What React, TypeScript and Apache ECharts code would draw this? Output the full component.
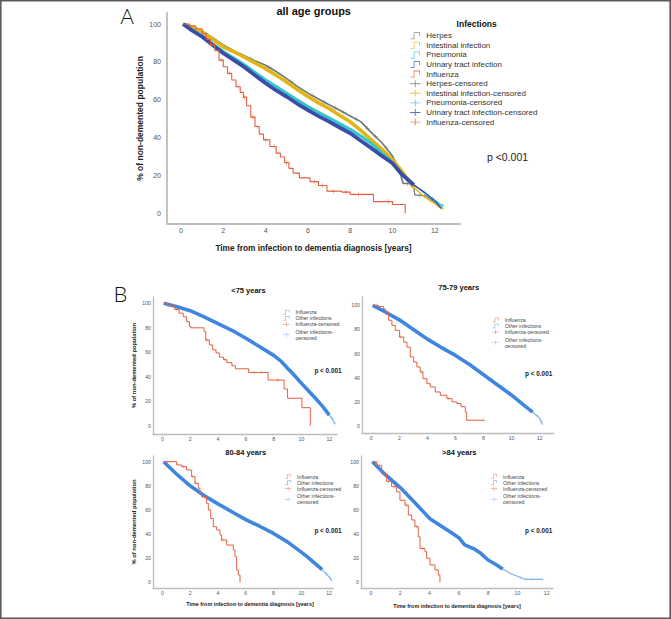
import React, { useEffect, useRef } from "react";
import * as echarts from "echarts";

const FONT = '"Liberation Sans", Arial, Helvetica, sans-serif';

// ---------------- Panel A : all age groups ----------------
const titleA = "all age groups";
const legendTitleA = "Infections";
const pTextA = "p <0.001";

const herpesA = [[0.1,100],[0.5,98.4],[1,96.2],[1.5,92.8],[2,89],[2.5,86],[3,83.3],[3.5,80.6],[4,78.3],[4.5,75],[5,71.2],[5.5,67.2],[6,63.6],[6.5,60.5],[7,57.5],[7.5,54.6],[8,51.6],[8.5,48.6],[9,42.8],[9.5,37.5],[10,30.5],[10.3,24],[10.5,16],[11,16],[11.05,10],[11.6,9.5],[12,6],[12.3,3]];
const intestinalA = [[0.1,100],[0.5,98.3],[1,96],[1.5,92],[2,88],[2.5,85.3],[3,82.5],[3.5,79.5],[4,76.5],[4.5,73],[5,69.5],[5.5,65.5],[6,61.8],[6.5,58.5],[7,55.5],[7.5,52],[8,48.5],[8.5,44],[9,39],[9.5,34],[10,28.5],[10.4,23],[11,14],[11.5,9],[12,5.5],[12.4,2.5]];
const pneumoniaA = [[0.1,100],[0.5,97],[1,93.8],[1.5,89.5],[2,85.5],[2.5,82],[3,78.5],[3.5,74.5],[4,70.5],[4.5,67],[5,63.5],[5.5,60],[6,56.5],[6.5,53.5],[7,50.5],[7.5,47.5],[8,44.5],[8.5,41],[9,37],[9.5,32],[10,27],[10.4,21],[11,15.5],[11.5,11],[12,7],[12.4,4]];
const urinaryA = [[0.1,100],[0.5,96.8],[1,93.3],[1.5,89],[2,84.6],[2.5,81],[3,77.3],[3.5,73],[4,68.8],[4.5,65],[5,61.7],[5.5,58],[6,54.7],[6.5,51.5],[7,48.6],[7.5,45.5],[8,42.5],[8.5,38.5],[9,34.6],[9.5,30.5],[10,26.7],[10.4,21.4],[11,15.3],[11.5,11.5],[12,7],[12.3,3]];
const influenzaA = [[0.1,100],[0.4,99],[0.7,97.5],[1.0,95],[1.2,92],[1.4,89],[1.6,86],[1.8,81],[2.0,77.5],[2.2,74],[2.4,70.5],[2.6,67],[2.8,64],[2.95,61.5],[3.1,57],[3.3,51],[3.5,46],[3.7,42],[3.9,39],[4.2,35.5],[4.5,32],[4.7,30],[4.9,27],[5.1,24],[5.3,21.5],[5.6,19],[6.1,17],[6.5,15],[6.9,12],[7.6,11.5],[8.0,10.3],[9.1,6.5],[10.0,5],[10.6,0.3]];

const herpesCensA = [[3.3,81.7],[4.2,77],[5.2,69.6],[6.2,62.4],[6.8,58.7],[7.3,55.8],[7.7,53.4],[8.3,49.8],[8.8,45.1],[9.2,40.7],[9.7,34.7],[10.7,16],[10.9,16],[11.3,9.8],[11.5,9.6],[12.15,4.5]];
const intestinalCensA = [[11.8,6.9],[12.3,3.3]];
const pneumoniaCensA = [[12.1,6.3],[12.35,4.4]];
const urinaryCensA = [[11.9,7.9]];
const influenzaCensA = [[1.3,92],[1.9,81],[2.3,74],[2.7,67],[3.0,61.5],[3.4,51],[3.6,46],[4.0,39],[4.4,35.5],[5.0,27],[6.3,17],[6.7,15],[7.2,12],[7.8,11.5],[8.4,10.3],[9.8,6.5]];

const infectionNamesA = ["Herpes", "Intestinal infection", "Pneumonia", "Urinary tract infection", "Influenza"];

// ---------------- Panel B : age groups ----------------
const ageGroupTitles = ["<75 years", "75-79 years", "80-84 years", ">84 years"];
const groupNamesB = ["Influenza", "Other infections"];
const pTextB = "p < 0.001";

const otherB1 = [[0.1,100],[1,97.5],[2,94],[3,89],[4,83.5],[5,78],[6,71.5],[7,64.5],[8,57.5],[8.5,53],[9,47],[9.5,41],[10,34.6],[10.5,28.5],[11,22.4],[11.5,16],[12,8.7],[12.25,5],[12.4,1.5]];
const influenzaB1 = [[0.1,100],[0.35,98],[0.9,95],[1.2,92],[1.5,89],[1.75,85],[1.95,81],[2.05,80],[3.0,77],[3.12,70],[3.38,66],[3.62,62],[3.86,59.5],[4.1,56],[4.4,54],[4.63,51.5],[5.0,49],[5.25,46.5],[6.2,43.5],[7.6,37.3],[8.75,30],[9.0,22.4],[10.03,14.7],[10.63,0]];
const influenzaCensB1 = [[1.0,95],[3.2,70],[4.5,54],[6.6,43.5],[7.1,43.5],[8.3,37.3]];
const otherCensB1 = [[12.2,5.7],[12.4,1.5]];

const otherB2 = [[0.1,100],[1,94.5],[2,88],[3,80],[4,72],[5,65],[6,58.5],[7,51],[8,42.5],[9,34],[10,25.5],[11,16],[11.5,11.5],[12,6.5],[12.2,1]];
const influenzaB2 = [[0.1,100],[0.5,99],[0.88,97],[1.0,94.5],[1.24,87.6],[1.47,83.4],[1.71,79.3],[2.02,73.7],[2.31,69.6],[2.54,65.4],[2.78,57.2],[3.02,53],[3.25,48.9],[3.49,44.8],[3.68,39.2],[3.97,35.1],[4.2,32.4],[4.56,28.2],[4.92,25.5],[5.39,22.7],[5.75,20],[6.1,18.6],[6.4,16],[6.7,11.7],[6.8,4.8],[8.0,4.8]];
const influenzaCensB2 = [[0.4,100],[2.1,73.7],[3.6,44.8],[5.5,22.7],[8.0,4.8]];
const otherCensB2 = [[11.8,8.5],[12.1,3.8]];

const otherB3 = [[0.1,100],[1,90],[2,80],[3,72],[4,65],[5,58.5],[6,52],[7,46.5],[8,40.5],[9,33.5],[10,25],[10.5,20.5],[11,15.5],[11.5,10.5],[12,4.5],[12.2,1.3]];
const influenzaB3 = [[0.1,100],[0.7,100],[1.03,97.3],[1.39,95.9],[1.75,93.1],[2.11,87.6],[2.35,82.1],[2.59,78],[2.71,73.8],[2.83,71],[3.19,65.5],[3.31,60],[3.48,53],[3.67,46.1],[3.91,43.4],[4.15,39.2],[4.27,35.1],[4.63,30.9],[5.11,26.8],[5.23,21.2],[5.35,10.2],[5.47,6.1],[5.59,0]];
const influenzaCensB3 = [[0.4,100],[1.5,95.9],[2.2,87.6],[2.4,82.1],[2.9,71],[4.3,35.1]];
const otherCensB3 = [[11.8,6.9],[12.1,2.9]];

const otherB4 = [[0.1,100],[1,89],[2,78.5],[3,66],[4,53],[5,45],[5.5,41],[6,37],[6.4,31],[7,28],[7.5,24],[8,18.5],[8.5,15],[9,11],[9.5,7.5],[10,5],[10.5,2.5],[11.7,2.5]];
const influenzaB4 = [[0.1,100],[0.39,97],[0.73,90],[1.07,83.7],[1.41,79.3],[1.75,75],[1.98,68],[2.32,64],[2.55,55.8],[2.78,51.7],[3.0,46.1],[3.23,37.8],[3.35,28],[3.69,25.4],[3.8,20],[4.03,14.4],[4.37,10.2],[4.6,6],[4.71,0]];
const influenzaCensB4 = [[0.45,97],[0.9,90],[1.2,83.7],[1.6,79.3],[2.4,64],[3.1,46.1],[3.5,28]];
const otherCensB4 = [[10.2,4],[11.0,2.5],[11.7,2.5]];

const xTickValues = [0, 2, 4, 6, 8, 10, 12];
const yTickValues = [0, 20, 40, 60, 80, 100];
const yAxisTitle = "% of non-demented population";
const xAxisTitle = "Time from infection to dementia diagnosis [years]";

// ---------------- styling / layout ----------------
const STEP_ICON = "path://M0,8L4,8L4,0L12,0L12,5L11,5L11,1L5,1L5,9L0,9Z";
const CENS_ICON = "path://M0,4L5.5,4L5.5,0.5L6.5,0.5L6.5,4L12,4L12,5L6.5,5L6.5,8.5L5.5,8.5L5.5,5L0,5Z";
const PLUS = "path://M4.5,0L5.5,0L5.5,4.5L10,4.5L10,5.5L5.5,5.5L5.5,10L4.5,10L4.5,5.5L0,5.5L0,4.5L4.5,4.5Z";
const NO_STROKE = { borderWidth: 0, borderColor: "rgba(0,0,0,0)" };

const COLORS: Record<string, string> = {
  Herpes: "#6c7777",
  "Intestinal infection": "#e2b512",
  Pneumonia: "#33c7c9",
  "Urinary tract infection": "#3b4ca9",
  Influenza: "#e2603f",
  "Other infections": "#3f86e0",
};
const OTHER_TAIL = "#7eb0ee";

const GRIDS = [
  { left: 167, top: 13, width: 293, height: 211, xMin: -0.66, xMax: 13.19, yMin: -5.3, yMax: 105.8 },
  { left: 153, top: 297, width: 184, height: 137, xMin: -0.67, xMax: 12.55, yMin: -6.8, yMax: 105.2 },
  { left: 362, top: 297, width: 192, height: 136, xMin: -0.66, xMax: 13.02, yMin: -5.8, yMax: 106.9 },
  { left: 153, top: 456, width: 180, height: 132, xMin: -0.67, xMax: 12.28, yMin: -4.7, yMax: 104.7 },
  { left: 361, top: 456, width: 192, height: 132, xMin: -0.68, xMax: 12.43, yMin: -4.7, yMax: 104.7 },
];

function lineSeries(name: string, data: number[][], color: string, width: number, g: number, step: boolean) {
  return {
    type: "line",
    name,
    data,
    xAxisIndex: g,
    yAxisIndex: g,
    showSymbol: false,
    symbol: "none",
    step: step ? "end" : false,
    lineStyle: { color, width },
    itemStyle: { color },
    silent: true,
  };
}
function censSeries(name: string, data: number[][], color: string, size: number, g: number) {
  return {
    type: "scatter",
    name,
    data,
    xAxisIndex: g,
    yAxisIndex: g,
    symbol: PLUS,
    symbolSize: size,
    itemStyle: { color },
    silent: true,
  };
}
const upTo = (d: number[][], t: number) => d.filter((p) => p[0] <= t);
const from = (d: number[][], t: number) => d.filter((p) => p[0] >= t);

function buildOption() {
  const series: any[] = [];
  // legend keys for the step curves (first series with each name gives the legend its icon colour)
  [...infectionNamesA, "Other infections"].forEach((n) =>
    series.push({ type: "scatter", name: n, data: [], xAxisIndex: 0, yAxisIndex: 0, itemStyle: { color: COLORS[n] }, silent: true })
  );

  // Panel A curves (drawing order)
  const curvesA: [string, number[][], number[][]][] = [
    ["Herpes", herpesA, herpesCensA],
    ["Intestinal infection", intestinalA, intestinalCensA],
    ["Pneumonia", pneumoniaA, pneumoniaCensA],
    ["Urinary tract infection", urinaryA, urinaryCensA],
  ];
  const widthA: Record<string, number> = { "Intestinal infection": 3.6, Herpes: 1.6, Pneumonia: 3.2, "Urinary tract infection": 3.8 };
  curvesA.forEach(([n, d]) => {
    series.push(lineSeries(n, upTo(d, 11), COLORS[n], widthA[n], 0, false));
    series.push(lineSeries(n, from(d, 11), COLORS[n], 1.3, 0, false));
  });
  series.push(lineSeries("Influenza", influenzaA, COLORS.Influenza, 1.1, 0, true));
  curvesA.forEach(([n, , c]) => series.push(censSeries(n + "-censored", c, COLORS[n], 5, 0)));
  series.push(censSeries("Influenza-censored", influenzaCensA, COLORS.Influenza, 5, 0));

  // Panel B
  const panelsB: [number[][], number[][], number[][], number[][], number][] = [
    [otherB1, influenzaB1, influenzaCensB1, otherCensB1, 12],
    [otherB2, influenzaB2, influenzaCensB2, otherCensB2, 11.5],
    [otherB3, influenzaB3, influenzaCensB3, otherCensB3, 11.5],
    [otherB4, influenzaB4, influenzaCensB4, otherCensB4, 9],
  ];
  panelsB.forEach(([other, flu, fluC, otherC, cut], i) => {
    const g = i + 1;
    series.push(lineSeries("Other infections", upTo(other, cut), COLORS["Other infections"], 3.6, g, false));
    series.push(lineSeries("Other infections", from(other, cut), OTHER_TAIL, 1.2, g, false));
    series.push(lineSeries("Influenza", flu, COLORS.Influenza, 1, g, true));
    series.push(censSeries("Influenza-censored", fluC, COLORS.Influenza, 4, g));
    series.push(censSeries("Other infections-censored", otherC, OTHER_TAIL, 4, g));
  });

  const grid = GRIDS.map((g) => ({ left: g.left, top: g.top, width: g.width, height: g.height }));
  const xAxis = GRIDS.map((g, i) => {
    const isA = i === 0;
    const hasName = i === 0 || i >= 3;
    return {
      type: "value",
      gridIndex: i,
      min: g.xMin,
      max: g.xMax,
      axisLine: { show: true, onZero: false, lineStyle: { color: "#bdbdbd", width: isA ? 1.8 : 1.3 } },
      axisTick: { show: false },
      splitLine: { show: false },
      axisLabel: {
        customValues: xTickValues,
        fontSize: isA ? 7 : 5.2,
        color: "#555",
        margin: isA ? 2.5 : 2.8,
        fontFamily: FONT,
      },
      name: hasName ? xAxisTitle : "",
      nameLocation: "middle",
      nameGap: isA ? 20 : i === 3 ? 13.3 : 15,
      nameTextStyle: {
        fontSize: isA ? 8.3 : 5.4,
        fontWeight: "bold",
        color: "#222",
        fontFamily: FONT,
        padding: i === 3 ? [0, 0, 0, 14] : 0,
      },
    };
  });
  const yAxis = GRIDS.map((g, i) => {
    const isA = i === 0;
    const hasName = i === 0 || i === 1 || i === 3;
    return {
      type: "value",
      gridIndex: i,
      min: g.yMin,
      max: g.yMax,
      axisLine: { show: true, onZero: false, lineStyle: { color: "#bdbdbd", width: isA ? 1.8 : 1.3 } },
      axisTick: { show: false },
      splitLine: { show: false },
      axisLabel: {
        customValues: yTickValues,
        fontSize: isA ? 7 : 5.2,
        color: "#555",
        margin: isA ? 6 : 2,
        fontFamily: FONT,
      },
      name: hasName ? yAxisTitle : "",
      nameLocation: "middle",
      nameGap: isA ? 22.8 : 16,
      nameTextStyle: { fontSize: isA ? 8.5 : 5.8, fontWeight: "bold", color: "#222", fontFamily: FONT },
    };
  });

  const legendA = {
    orient: "vertical",
    left: 410,
    top: 30.9,
    padding: 0,
    itemGap: 0,
    itemWidth: 12,
    itemHeight: 7,
    selectedMode: false,
    itemStyle: NO_STROKE,
    lineStyle: { width: 0 },
    textStyle: { fontSize: 8, lineHeight: 9.6, color: "#333", fontFamily: FONT },
    data: [
      ...infectionNamesA.map((n) => ({ name: n, icon: STEP_ICON, itemStyle: NO_STROKE })),
      ...infectionNamesA.map((n) => ({ name: n + "-censored", icon: CENS_ICON, itemStyle: NO_STROKE })),
    ],
  };
  const legendPosB = [
    { left: 283, top: 309.3 },
    { left: 492.3, top: 317 },
    { left: 284.7, top: 473.7 },
    { left: 490.7, top: 473.7 },
  ];
  const legendsB = legendPosB.map((p) => ({
    orient: "vertical",
    left: p.left,
    top: p.top,
    padding: 0,
    itemGap: 0,
    itemWidth: 8,
    itemHeight: 4.5,
    selectedMode: false,
    itemStyle: NO_STROKE,
    lineStyle: { width: 0 },
    textStyle: { fontSize: 5.2, lineHeight: 6, color: "#444", fontFamily: FONT },
    formatter: (n: string) => (n === "Other infections-censored" ? "Other infections-\ncensored" : n),
    data: [
      ...groupNamesB.map((n) => ({ name: n, icon: STEP_ICON, itemStyle: NO_STROKE })),
      ...groupNamesB.map((n) =>
        n === "Other infections"
          ? { name: n + "-censored", icon: CENS_ICON, itemStyle: NO_STROKE, textStyle: { padding: [3, 0, 0, 0] } }
          : { name: n + "-censored", icon: CENS_ICON, itemStyle: NO_STROKE }
      ),
    ],
  }));

  const txt = (text: string, x: number, y: number, size: number, weight: any, color = "#111", family = FONT) => ({
    type: "text",
    x,
    y,
    silent: true,
    style: {
      text,
      fontSize: size,
      fontWeight: weight,
      fontFamily: family,
      fill: color,
      align: "center",
      verticalAlign: "middle",
      textAlign: "center",
      textVerticalAlign: "middle",
    },
  });

  const graphic = [
    { type: "rect", silent: true, z: 100, shape: { x: 0.8, y: 0.8, width: 669.4, height: 617.4 }, style: { fill: "none", stroke: "#5a5a5a", lineWidth: 1.6 } },
    txt("A", 127, 15, 21, 300, "#111", "Lato, 'Open Sans', sans-serif"),
    txt("B", 120.5, 293.5, 22, 300, "#111", "Lato, 'Open Sans', sans-serif"),
    txt(titleA, 313.7, 10.7, 11, "bold"),
    txt(legendTitleA, 476.7, 24, 8.5, "bold"),
    txt(pTextA, 507.5, 157.3, 10.5, "normal", "#222"),
    txt(ageGroupTitles[0], 248.5, 290, 7.5, "bold"),
    txt(ageGroupTitles[1], 458.7, 287.3, 7.5, "bold"),
    txt(ageGroupTitles[2], 245.7, 452.3, 7.5, "bold"),
    txt(ageGroupTitles[3], 459.3, 452.3, 7.5, "bold"),
    txt(pTextB, 328, 370, 6.4, "bold", "#222"),
    txt(pTextB, 538.7, 373.3, 6.4, "bold", "#222"),
    txt(pTextB, 328, 530, 6.4, "bold", "#222"),
    txt(pTextB, 538.7, 530, 6.4, "bold", "#222"),
  ];

  return {
    animation: false,
    backgroundColor: "#ffffff",
    textStyle: { fontFamily: FONT },
    grid,
    xAxis,
    yAxis,
    legend: [legendA, ...legendsB],
    series,
    graphic,
  };
}

export default function App() {
  const ref = useRef<HTMLDivElement>(null);
  useEffect(() => {
    if (!ref.current) return;
    const chart = echarts.init(ref.current, undefined, { renderer: "svg", width: 671, height: 619 });
    chart.setOption(buildOption() as any);
    return () => chart.dispose();
  }, []);
  return (
    <div
      ref={ref}
      style={{ position: "absolute", left: 0, top: 0, width: 671, height: 619, background: "#fff" }}
    />
  );
}
